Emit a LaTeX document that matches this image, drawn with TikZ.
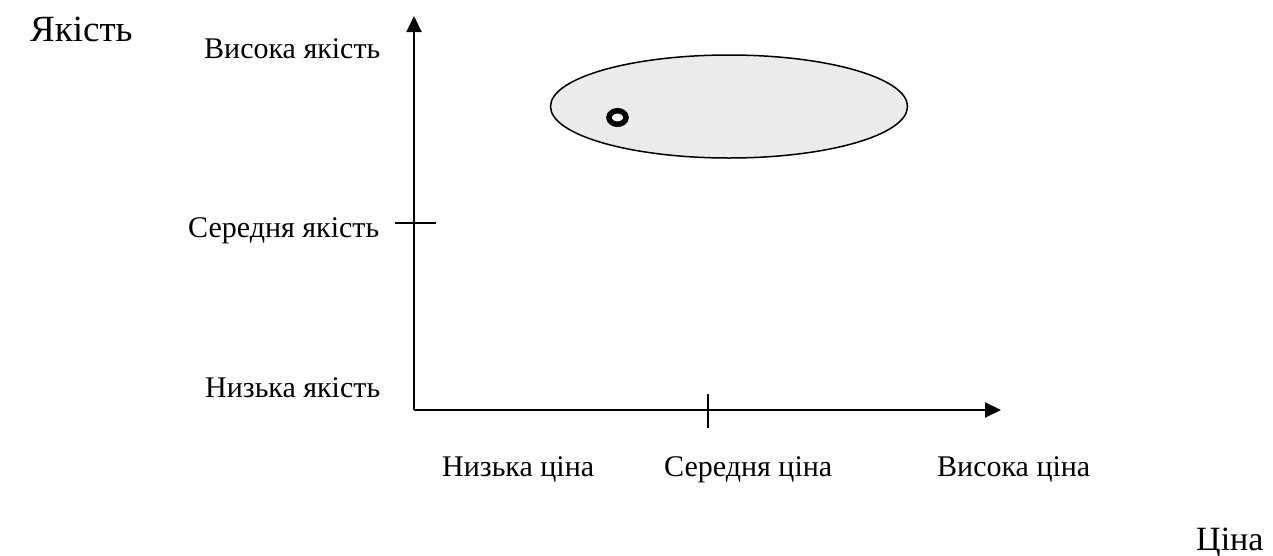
\documentclass[tikz,border=0pt]{standalone}
\usepackage{fontspec}
\setmainfont{Liberation Serif}
\usetikzlibrary{arrows.meta,shapes.geometric}
\begin{document}
\begin{tikzpicture}[x=1pt,y=-1pt,
  lbl/.style={anchor=base west, inner sep=0pt, font=\fontsize{30}{36}\selectfont},
  big/.style={anchor=base west, inner sep=0pt, font=\fontsize{37}{44}\selectfont},
  axis/.style={line width=2pt, -{Triangle[length=16pt,width=15pt]}},
  tickline/.style={line width=2pt},
  zone/.style={ellipse, draw=black, line width=1.5pt, fill=black!8, inner sep=0pt},
  ring/.style={ellipse, draw=black, line width=5.5pt, fill=white, inner sep=0pt}]
\useasboundingbox (0,0) rectangle (1273,555);
% axes
\coordinate (O) at (414,410);
\coordinate (ytip) at (414,16);
\coordinate (xtip) at (1001,410);
\draw[axis] (O) -- (ytip);
\draw[axis] (O) -- (xtip);
% ticks
\coordinate (hl) at (395,223);
\coordinate (hr) at (436,223);
\coordinate (vt) at (708,394);
\coordinate (vb) at (708,428);
\draw[tickline] (hl) -- (hr);
\draw[tickline] (vt) -- (vb);
% zone
\node[zone, minimum width=357pt, minimum height=103pt] (z) at (729,106.5) {};
\node[ring, minimum width=17pt, minimum height=13.5pt] (p) at (617.5,117.5) {};
% labels
\node[big] (yq) at (30,41) {Якість};
\node[big, font=\fontsize{34}{40}\selectfont] (xp) at (1196,550) {Ціна};
\node[lbl] (qh) at (204,58) {Висока якість};
\node[lbl] (qm) at (188,237) {Середня якість};
\node[lbl] (ql) at (205,397) {Низька якість};
\node[lbl] (pl) at (442,476) {Низька ціна};
\node[lbl] (pm) at (664,476) {Середня ціна};
\node[lbl] (ph) at (937,476) {Висока ціна};
\end{tikzpicture}
\end{document}
